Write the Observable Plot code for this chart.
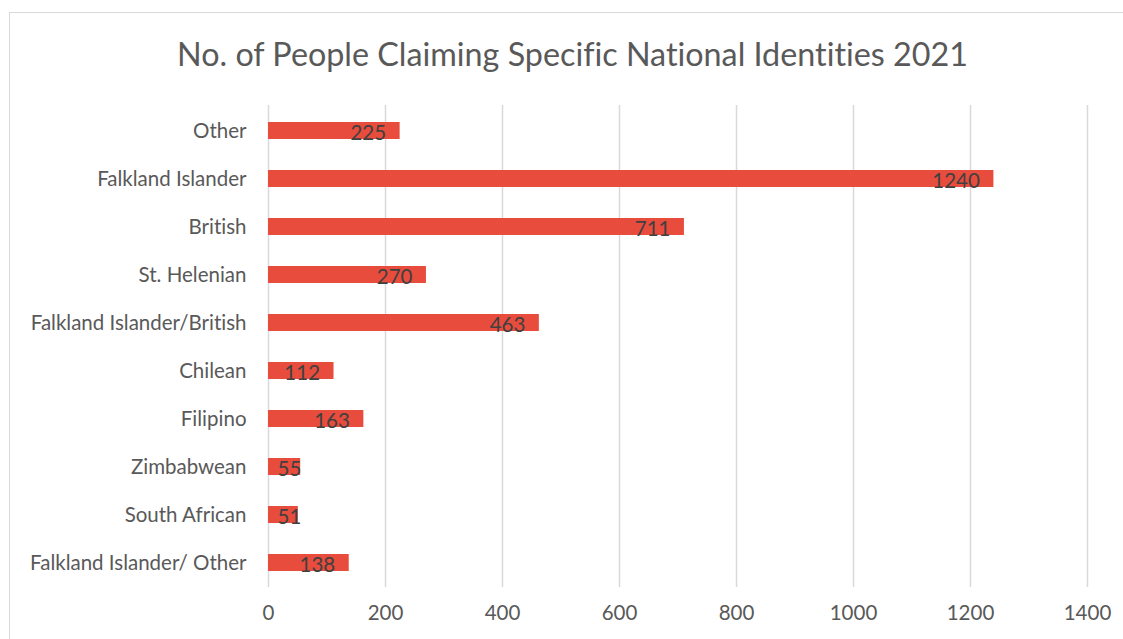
<!DOCTYPE html>
<html>
<head>
<meta charset="utf-8">
<script src="https://cdn.jsdelivr.net/npm/d3@7"></script>
<script src="https://cdn.jsdelivr.net/npm/@observablehq/plot@0.6"></script>
<style>
  html, body { margin: 0; padding: 0; background: #fff; overflow: hidden; }
  body { width: 1123px; height: 639px; position: relative; font-variant-ligatures: none; }
  #frame { position: absolute; left: 9px; top: 12px; width: 1130px; height: 660px;
           border: 1px solid #d9d9d9; box-sizing: border-box; }
  #title { position: absolute; left: 0; top: 34px; width: 1145px; text-align: center;
           font-family: Lato, sans-serif; font-size: 32.3px; color: #595959; line-height: 40px;
           font-variant-ligatures: none; }
  #chart { position: absolute; left: 10px; top: 90px; }
  #chart svg text { font-variant-ligatures: none; }
</style>
</head>
<body>
<div id="frame"></div>
<div id="title">No. of People Claiming Specific National Identities 2021</div>
<div id="chart"></div>
<script>
const categories = ["Other", "Falkland Islander", "British", "St. Helenian", "Falkland Islander/British",
  "Chilean", "Filipino", "Zimbabwean", "South African", "Falkland Islander/ Other"];
const values = [225, 1240, 711, 270, 463, 112, 163, 55, 51, 138];
const xTicks = [0, 200, 400, 600, 800, 1000, 1200, 1400];

const data = categories.map((c, i) => ({category: c, value: values[i]}));

const plot = Plot.plot({
  width: 1113,
  height: 549,
  marginTop: 15,
  marginBottom: 52,
  marginLeft: 258,
  marginRight: 36,
  style: {fontFamily: "Lato, sans-serif", fontSize: "20.5px", color: "#595959", background: "transparent"},
  x: {domain: [0, 1400], ticks: xTicks, tickFormat: d => String(d), tickSize: 0, tickPadding: 18, label: null},
  y: {domain: categories, padding: 0.65, paddingOuter: 0.325, tickSize: 0, tickPadding: 22, label: null},
  marks: [
    Plot.gridX(xTicks, {stroke: "#d9d9d9", strokeOpacity: 1, strokeWidth: 1.5}),
    Plot.barX(data, {y: "category", x: "value", fill: "#E84C3D"}),
    Plot.text(data, {y: "category", x: d => Math.max(d.value, 80), text: d => String(d.value),
      textAnchor: "end", dx: -14, dy: 2, fill: "#404040", fontSize: 20.5})
  ]
});
document.getElementById("chart").appendChild(plot);
</script>
</body>
</html>
